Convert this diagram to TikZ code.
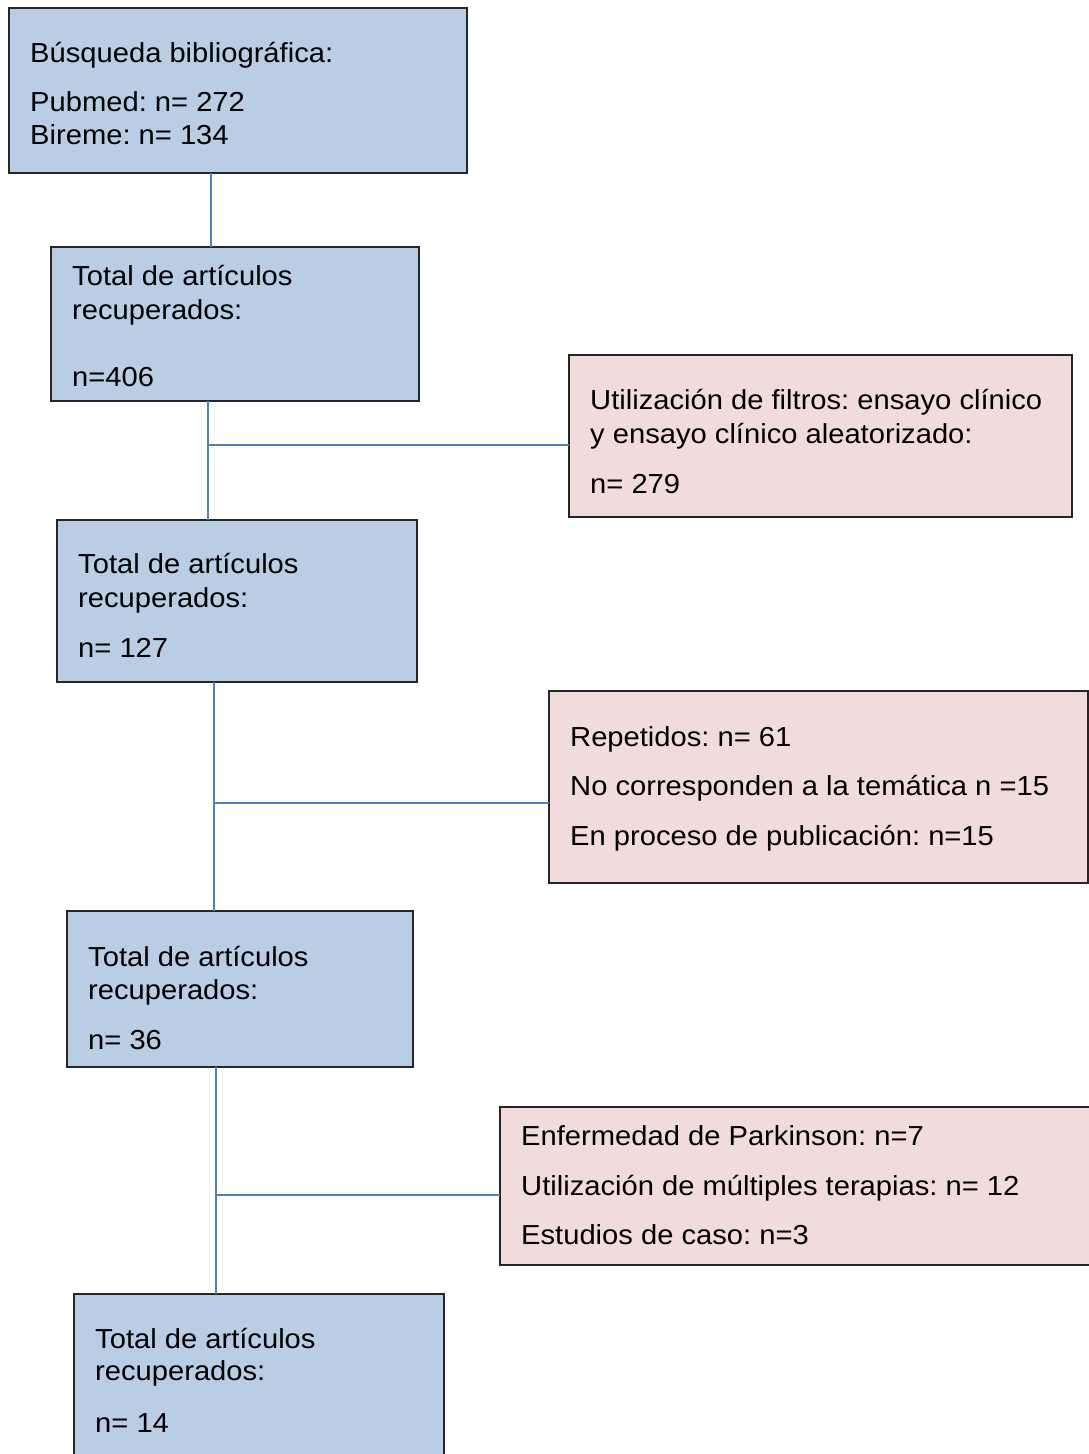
\documentclass[tikz,border=0pt]{standalone}
\usepackage{fontspec}
\setmainfont[FakeStretch=1.06]{Liberation Sans}
\frenchspacing
\definecolor{boxblue}{HTML}{B9CDE5}
\definecolor{boxpink}{HTML}{F2DCDB}
\definecolor{linkblue}{HTML}{4F81BD}
\begin{document}
\begin{tikzpicture}[x=1pt,y=-1pt,
  boxbase/.style={draw=black!85,line width=1.3pt,anchor=north west,inner sep=0pt,outer sep=0pt},
  bluebox/.style={boxbase,fill=boxblue},
  pinkbox/.style={boxbase,fill=boxpink},
  txt/.style={anchor=base west,inner sep=0pt,font=\fontsize{27.5}{33}\selectfont},
  link/.style={draw=linkblue,line width=2.2pt}]
\useasboundingbox (0,0) rectangle (1089,1454);
\begin{scope}
\clip (0,0) rectangle (1089,1454);
% boxes
\node[bluebox,minimum width=458pt,minimum height=165pt] (b1) at (9,8) {};
\node[bluebox,minimum width=368pt,minimum height=154pt] (b2) at (51,247) {};
\node[pinkbox,minimum width=503pt,minimum height=162pt] (b3) at (569,355) {};
\node[bluebox,minimum width=360pt,minimum height=162pt] (b4) at (57,520) {};
\node[pinkbox,minimum width=539pt,minimum height=192pt] (b5) at (549,691) {};
\node[bluebox,minimum width=346pt,minimum height=156pt] (b6) at (67,911) {};
\node[pinkbox,minimum width=594pt,minimum height=158pt] (b7) at (500,1107) {};
\node[bluebox,minimum width=370pt,minimum height=170pt] (b8) at (74,1294) {};
% texts
\node[txt] (t11) at (30,62) {Búsqueda bibliográfica:};
\node[txt] (t12) at (30,111) {Pubmed: n= 272};
\node[txt] (t13) at (30,144) {Bireme: n= 134};
\node[txt] (t21) at (72,285) {Total de artículos};
\node[txt] (t22) at (72,319) {recuperados:};
\node[txt] (t23) at (72,386) {n=406};
\node[txt] (t31) at (590,409) {Utilización de filtros: ensayo clínico};
\node[txt] (t32) at (590,443) {y ensayo clínico aleatorizado:};
\node[txt] (t33) at (590,493) {n= 279};
\node[txt] (t41) at (78,573) {Total de artículos};
\node[txt] (t42) at (78,607) {recuperados:};
\node[txt] (t43) at (78,657) {n= 127};
\node[txt] (t51) at (570,746) {Repetidos: n= 61};
\node[txt] (t52) at (570,795) {No corresponden a la temática n =15};
\node[txt] (t53) at (570,845) {En proceso de publicación: n=15};
\node[txt] (t61) at (88,966) {Total de artículos};
\node[txt] (t62) at (88,999) {recuperados:};
\node[txt] (t63) at (88,1049) {n= 36};
\node[txt] (t71) at (521,1145) {Enfermedad de Parkinson: n=7};
\node[txt] (t72) at (521,1195) {Utilización de múltiples terapias: n= 12};
\node[txt] (t73) at (521,1244) {Estudios de caso: n=3};
\node[txt] (t81) at (95,1348) {Total de artículos};
\node[txt] (t82) at (95,1380) {recuperados:};
\node[txt] (t83) at (95,1432) {n= 14};
% connectors
\coordinate (j0) at (211,0);
\coordinate (j1) at (208,445);
\coordinate (j2) at (214,803);
\coordinate (j3) at (216,1195);
\draw[link] (b1.south -| j0) -- (b2.north -| j0);
\draw[link] (b2.south -| j1) -- (b4.north -| j1);
\draw[link] (j1) -- (b3.west |- j1);
\draw[link] (b4.south -| j2) -- (b6.north -| j2);
\draw[link] (j2) -- (b5.west |- j2);
\draw[link] (b6.south -| j3) -- (b8.north -| j3);
\draw[link] (j3) -- (b7.west |- j3);
\end{scope}
\end{tikzpicture}
\end{document}
